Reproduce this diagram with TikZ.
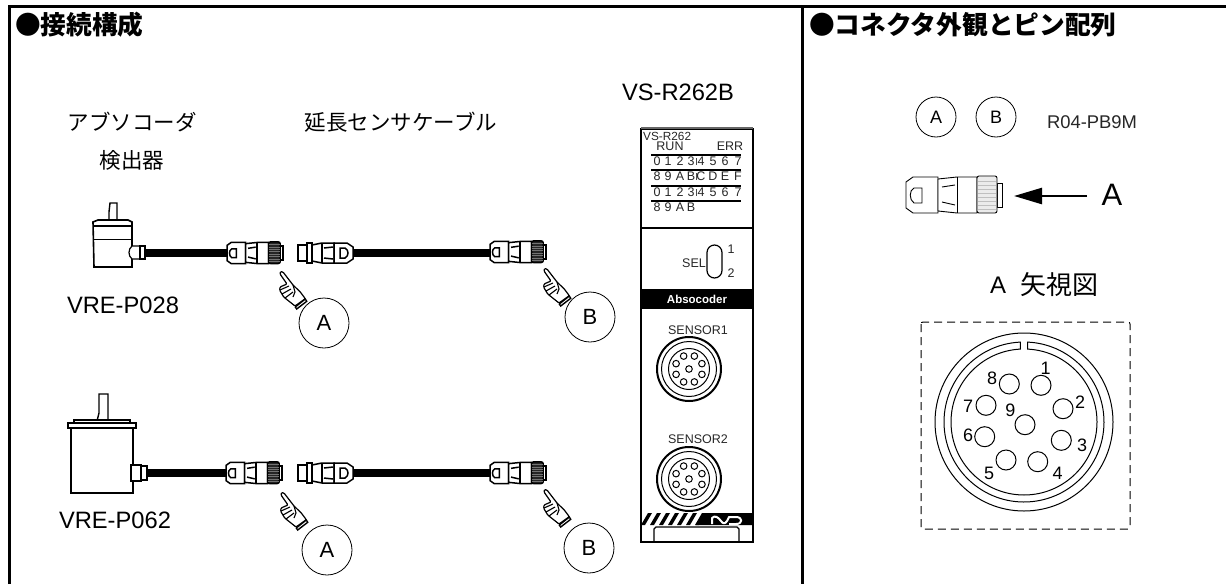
\documentclass[tikz,border=0pt]{standalone}
\usepackage{fontspec}
\usetikzlibrary{arrows.meta}
\setmainfont{Liberation Sans}
\newfontfamily\jpfont{Noto Sans CJK JP}
\tikzset{
  framerule/.style={line width=3pt},
  headtext/.style={font=\jpfont\bfseries\fontsize{25.7}{26}\selectfont,anchor=west,inner sep=0pt},
  jplabel/.style={font=\jpfont\fontsize{21.5}{22}\selectfont,inner sep=0pt},
  latinlabel/.style={font=\fontsize{23.7}{24}\selectfont,inner sep=0pt},
  tinylabel/.style={font=\fontsize{12.5}{13}\selectfont,inner sep=0pt,text=black!85},
  tagcircle/.style={draw,circle,line width=.8pt,inner sep=0pt,font=\fontsize{22}{22}\selectfont},
  pinhole/.style={draw,circle,line width=1pt,minimum size=20pt,inner sep=0pt},
  pinlabel/.style={font=\fontsize{18}{18}\selectfont,inner sep=0pt},
  cable/.style={line width=8pt},
  pics/plugend/.style 2 args={code={
    \draw[fill=white] (0,-13) -- (7,-18) -- (32,-18) -- (32,18) -- (7,18) -- (0,13) -- cycle;
    \draw (16,-7) -- (8,-7) .. controls (3,-5) and (3,5) .. (8,8) -- (16,8) -- cycle;
    \draw[fill=white] (32,-16) -- (51,-18) -- (71,-18) -- (71,18) -- (51,18) -- (32,16) -- cycle;
    \draw (51,-18) -- (51,18);
    \draw (36,-8) -- (49,-10);
    \draw (36,7) -- (49,10);
    \draw[fill=white] (91,-12) rectangle (96,12);
    \draw[fill=#1,rounded corners=2pt] (71,-19) rectangle (91,18);
    \foreach \s in {-14,-10,...,14}{\draw[#2,line width=.7pt] (72,\s) -- (90,\s);}
  }},
  pics/plugstart/.style={code={
    \draw[fill=white] (0,-8) rectangle (9,8);
    \draw[fill=white] (9,-10) rectangle (14,10);
    \draw[fill=white] (14,-8) -- (24,-10) -- (36,-10) -- (36,10) -- (24,10) -- (14,8) -- cycle;
    \draw (24,-10) -- (24,10);
    \draw (26,-5) -- (35,-6);
    \draw (26,5) -- (35,6);
    \draw[fill=white] (36,-10) -- (49,-10) -- (55,-6) -- (55,6) -- (49,10) -- (36,10) -- cycle;
    \draw (42,-5) -- (47,-5) .. controls (51,-3) and (51,3) .. (47,5) -- (42,5) -- cycle;
  }},
  pics/pointhand/.style={code={
    \draw[fill=white,line width=1.2pt,line join=round,rounded corners=1pt] (-1,2) -- (-.5,-.5) -- (2,0) -- (12,13) -- (19.3,20) -- (24.3,26.7) -- (14,34) -- (2.7,25) -- (-1.3,18.3) -- (-1,15) -- (6,12) -- cycle;
    \draw[fill=white,line width=1.4pt] (14.3,35) -- (24.3,27) -- (25.7,29.3) -- (15.7,37) -- cycle;
    \draw[line width=1.1pt] (-1,18) -- (8,14) (1,22) -- (10,17) (4,26) -- (12,20) (12,13) -- (14,20) -- (12,25);
  }},
  pics/sensorport/.style={code={
    \draw[line width=2pt] (0,0) circle (32);
    \draw[line width=1pt] (0,0) circle (27.5);
    \draw[line width=1pt] (0,0) circle (20.5);
    \draw[line width=1pt] (0,0) circle (3.3);
    \foreach \a in {22.5,67.5,...,337.5}{\draw[line width=1pt] (\a:14) circle (3.3);}
  }},
}
\begin{document}
\begin{tikzpicture}[x=1pt,y=-1pt,>=stealth]
  \useasboundingbox (0,0) rectangle (1226,584);

  % Outer frame.
  \draw[framerule] (9,584) -- (9,6) -- (1226,6);
  \draw[framerule] (802,6) -- (802,584);
  \node[headtext] (headLeft) at (15,25) {●接続構成};
  \node[headtext] (headRight) at (809,25) {●コネクタ外観とピン配列};

  % Upper labels.
  \node[jplabel] (encTitleA) at (132,122) {アブソコーダ};
  \node[jplabel] (encTitleB) at (132,160) {検出器};
  \node[jplabel] (cableTitle) at (401,122) {延長センサケーブル};
  \node[latinlabel] (moduleTitle) at (678,92) {VS-R262B};
  \node[latinlabel] (encNameA) at (123,305) {VRE-P028};
  \node[latinlabel] (encNameB) at (115,520) {VRE-P062};

  % Small encoder.
  \draw[line width=1.4pt,fill=white] (109,221) -- (109,212) -- (110,203) -- (117,203) -- (117,221);
  \draw[line width=1.6pt,fill=white] (93,222) -- (98,220) -- (128,220) -- (132,222) -- (132,267) -- (94,267) -- cycle;
  \draw[line width=1.2pt] (93,226) -- (132,226);
  \draw[line width=1pt] (94,239) -- (132,239);
  \draw[line width=1.2pt,fill=white] (132,246) -- (140,246) -- (140,259) -- (132,259) .. controls (128,256) and (128,249) .. (132,246);
  \draw[line width=1.4pt,fill=white] (140,246) rectangle (145,259);
  \coordinate (encOutA) at (145,253);
  \coordinate (plugInA) at (228,253);
  \draw[cable] (encOutA) -- (plugInA);
  \pic[scale=.585,line width=1.5pt] (plugA) at (227,253) {plugend={black!85}{black!55}};
  \pic[line width=1.5pt] (startA) at (298,253) {plugstart};
  \coordinate (startOutA) at (353,253);
  \coordinate (endInA) at (491,253);
  \draw[cable] (startOutA) -- (endInA);
  \pic[scale=.585,line width=1.5pt] (endA) at (490,252) {plugend={black!85}{black!55}};
  \pic (handA) at (281,272) {pointhand};
  \pic (handB) at (545,269) {pointhand};
  \node[tagcircle,minimum size=50pt] (tagA) at (324,323) {A};
  \node[tagcircle,minimum size=50pt] (tagB) at (590,317) {B};

  % Large encoder.
  \draw[line width=1.4pt,fill=white] (97,421) -- (99,413) -- (99,394) -- (108,394) -- (108,421);
  \draw[line width=1.6pt,fill=white] (74,423) -- (74,420) -- (130,420) -- (130,423);
  \draw[line width=1.6pt,fill=white] (68,423) rectangle (136,428);
  \draw[line width=1.6pt,fill=white] (71,428) rectangle (133,493);
  \draw[line width=1.4pt,fill=white] (131,465) rectangle (141,481);
  \draw[line width=1.4pt,fill=white] (141,466) rectangle (147,480);
  \coordinate (encOutB) at (147,473);
  \coordinate (plugInB) at (227,473);
  \draw[cable] (encOutB) -- (plugInB);
  \pic[scale=.585,line width=1.5pt] (plugC) at (226,473) {plugend={black!85}{black!55}};
  \pic[line width=1.5pt] (startB) at (298,473) {plugstart};
  \coordinate (startOutB) at (353,473);
  \coordinate (endInB) at (491,473);
  \draw[cable] (startOutB) -- (endInB);
  \pic[scale=.585,line width=1.5pt] (endB) at (490,473) {plugend={black!85}{black!55}};
  \pic (handC) at (282,493) {pointhand};
  \pic (handD) at (545,490) {pointhand};
  \node[tagcircle,minimum size=50pt] (tagC) at (327,550) {A};
  \node[tagcircle,minimum size=50pt] (tagD) at (589,548) {B};

  % Controller front.
  \draw[line width=1.4pt] (641,129) rectangle (753,542);
  \draw[line width=2.5pt,black!60] (641,128) -- (753,128);
  \draw[line width=1.4pt] (641,228) -- (753,228);
  \node[tinylabel,anchor=west,font=\fontsize{11.8}{12}\selectfont] (modelName) at (643,136) {VS-R262};
  \node[tinylabel] (runName) at (670,146) {RUN};
  \node[tinylabel] (errName) at (730,146) {ERR};
  \foreach \y in {155,170,186,201}{\draw[line width=1.1pt] (651,\y) -- (741,\y);}
  \foreach \t/\x in {0/657,1/668,2/680,3/691,4/701,5/713,6/725,7/738}{
    \node[tinylabel] (ledA\t) at (\x,161) {\t};
    \node[tinylabel] (ledC\t) at (\x,192) {\t};
  }
  \foreach \t/\x in {8/657,9/668,A/680,B/691,C/701,D/713,E/725,F/738}{
    \node[tinylabel] (ledB\t) at (\x,176) {\t};
  }
  \foreach \t/\x in {8/657,9/668,A/680,B/691}{
    \node[tinylabel] (ledD\t) at (\x,207) {\t};
  }
  \foreach \y in {161,176,192}{\draw[line width=.8pt,black!70] (696,\y-3) -- (696,\y+4);}
  \node[tinylabel,anchor=east] (selName) at (706,263) {SEL};
  \draw[line width=1.2pt] (707,252.5) arc (180:360:7.5) -- (722,270.5) arc (0:180:7.5) -- cycle;
  \node[tinylabel] (selOne) at (731,249) {1};
  \node[tinylabel] (selTwo) at (731,273) {2};
  \fill (641,289) rectangle (753,309);
  \node[font=\bfseries\fontsize{11.5}{12}\selectfont,text=white,inner sep=0pt] (logoName) at (697,299) {Absocoder};
  \node[tinylabel] (sensorOne) at (698,330) {SENSOR1};
  \pic (portOne) at (689,369) {sensorport};
  \node[tinylabel] (sensorTwo) at (698,439) {SENSOR2};
  \pic (portTwo) at (689,479) {sensorport};
  \fill (703,513) -- (753,513) -- (753,525) -- (696,525) -- cycle;
  \foreach \x in {641,650,...,695}{\fill (\x,525) -- (\x+4,525) -- (\x+11,513) -- (\x+7,513) -- cycle;}
  \draw[white,line width=2pt,line join=round] (712,524) -- (712,518) .. controls (715,515) and (718,517) .. (721,521) .. controls (723,524) and (725,524) .. (727,521) -- (729,517) -- (736,517) .. controls (743,517) and (743,524) .. (736,524) -- (729,524);
  \draw[line width=1.2pt] (654,542) -- (654,529) -- (656,527) -- (737,527) -- (739,529) -- (739,542);

  % Connector view.
  \node[tagcircle,minimum size=40pt,font=\fontsize{18}{18}\selectfont] (sideA) at (936,117) {A};
  \node[tagcircle,minimum size=40pt,font=\fontsize{18}{18}\selectfont] (sideB) at (996,117) {B};
  \node[font=\fontsize{18.4}{19}\selectfont,inner sep=0pt,text=black!85] (partName) at (1092,122) {R04-PB9M};
  \pic[line width=.9pt] (bigPlug) at (906,195) {plugend={black!8}{black!25}};
  \coordinate (bigPlugEnd) at (1014,196);
  \node[font=\fontsize{31}{31}\selectfont,inner sep=0pt] (viewA) at (1112,195) {A};
  \draw[-{Triangle[length=28pt,width=16pt]},line width=2.5pt] (1087,196) -- (bigPlugEnd);
  \node[font=\fontsize{24}{24}\selectfont,inner sep=0pt,anchor=west] (viewTitleA) at (990,285) {A};
  \node[font=\jpfont\fontsize{26}{26}\selectfont,inner sep=0pt,anchor=west] (viewTitleB) at (1020,285) {矢視図};

  % Pin layout.
  \draw[line width=1pt,rounded corners=2pt,dash pattern=on 8pt off 5pt] (921,322) rectangle (1130,529);
  \coordinate (faceCentre) at (1024,422);
  \draw[line width=1pt] (faceCentre) circle (89);
  \draw[line width=1pt] (faceCentre) ++(-92.65:80) arc (-92.65:-447.35:80) -- ++(0,7) arc (-447.1:-92.9:73) -- cycle;
  \foreach \n/\x/\y/\u/\v in {1/1041/385.3/1045.7/368.7,2/1063/408.7/1080/402.7,3/1061.3/440.3/1082/445.3,4/1037.7/461.7/1057.7/473.3,5/1006/460/989/473.3,6/984.7/436.7/968/435.7,7/986/405.3/968/406,8/1009.3/384/992/378.3,9/1025/424.7/1010.3/410.7}{
    \node[pinhole] (pin\n) at (\x,\y) {};
    \node[pinlabel] (pinName\n) at (\u,\v) {\n};
  }
\end{tikzpicture}
\end{document}
